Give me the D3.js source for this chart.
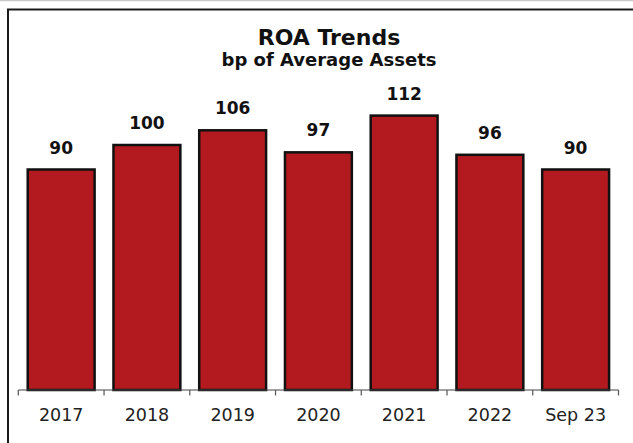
<!DOCTYPE html>
<html>
<head>
<meta charset="utf-8">
<script src="https://cdn.jsdelivr.net/npm/d3@7"></script>
<style>
  html, body { margin: 0; padding: 0; background: #fff; }
  svg { display: block; }
</style>
</head>
<body>
<svg id="chart" width="633" height="443"></svg>
<script>
// Return on assets, basis points of average assets
const categories = ["2017", "2018", "2019", "2020", "2021", "2022", "Sep 23"];
const roaValues = [90, 100, 106, 97, 112, 96, 90];
const titleText = "ROA Trends";
const subtitleText = "bp of Average Assets";

const W = 633, H = 443;
const svg = d3.select("#chart");
const font = "'DejaVu Sans', 'Lato', sans-serif";

// outer frame (runs off the right and bottom edges)
svg.append("line").attr("x1", 0).attr("x2", W).attr("y1", 0.5).attr("y2", 0.5)
  .attr("stroke", "#c8c8c8").attr("stroke-width", 1.5);
svg.append("rect")
  .attr("x", 8).attr("y", 9.5).attr("width", W + 10).attr("height", H + 10)
  .attr("fill", "none").attr("stroke", "#1a1a1a").attr("stroke-width", 2);

const x0 = 18.3, x1 = 618.5;
const x = d3.scaleBand().domain(categories).range([x0, x1]).paddingInner(0.22).paddingOuter(0.11);
const y = d3.scaleLinear().domain([0, 140]).range([390, 47]);

// bars
svg.append("g").selectAll("rect").data(roaValues).join("rect")
  .attr("x", (d, i) => x(categories[i]))
  .attr("y", d => y(d))
  .attr("width", x.bandwidth())
  .attr("height", d => y(0) - y(d))
  .attr("fill", "#b31a1f")
  .attr("stroke", "#111")
  .attr("stroke-width", 2.5);

// value labels
svg.append("g").selectAll("text").data(roaValues).join("text")
  .attr("x", (d, i) => x(categories[i]) + x.bandwidth() / 2)
  .attr("y", d => y(d) - 16)
  .attr("text-anchor", "middle")
  .attr("font-family", font)
  .attr("font-weight", "bold")
  .attr("font-size", 17)
  .attr("fill", "#111")
  .text(d => d);

// category axis with ticks between bands
const axisG = svg.append("g");
axisG.append("line").attr("x1", x0).attr("x2", x1).attr("y1", 390).attr("y2", 390)
  .attr("stroke", "#444").attr("stroke-width", 1.2);
const bounds = d3.range(categories.length + 1).map(i => x0 + i * x.step());
axisG.selectAll("line.tick").data(bounds).join("line")
  .attr("class", "tick")
  .attr("x1", d => d).attr("x2", d => d)
  .attr("y1", 390).attr("y2", 395.5)
  .attr("stroke", "#555").attr("stroke-width", 1.2);
axisG.selectAll("text").data(categories).join("text")
  .attr("x", d => x(d) + x.bandwidth() / 2)
  .attr("y", 421)
  .attr("text-anchor", "middle")
  .attr("font-family", font)
  .attr("font-size", 17.5)
  .attr("fill", "#222")
  .text(d => d);

// titles
svg.append("text").attr("x", 329).attr("y", 45)
  .attr("text-anchor", "middle").attr("font-family", font)
  .attr("font-weight", "bold").attr("font-size", 22).attr("fill", "#111")
  .text(titleText);
svg.append("text").attr("x", 329).attr("y", 66)
  .attr("text-anchor", "middle").attr("font-family", font)
  .attr("font-weight", "bold").attr("font-size", 18).attr("fill", "#111")
  .text(subtitleText);
</script>
</body>
</html>
